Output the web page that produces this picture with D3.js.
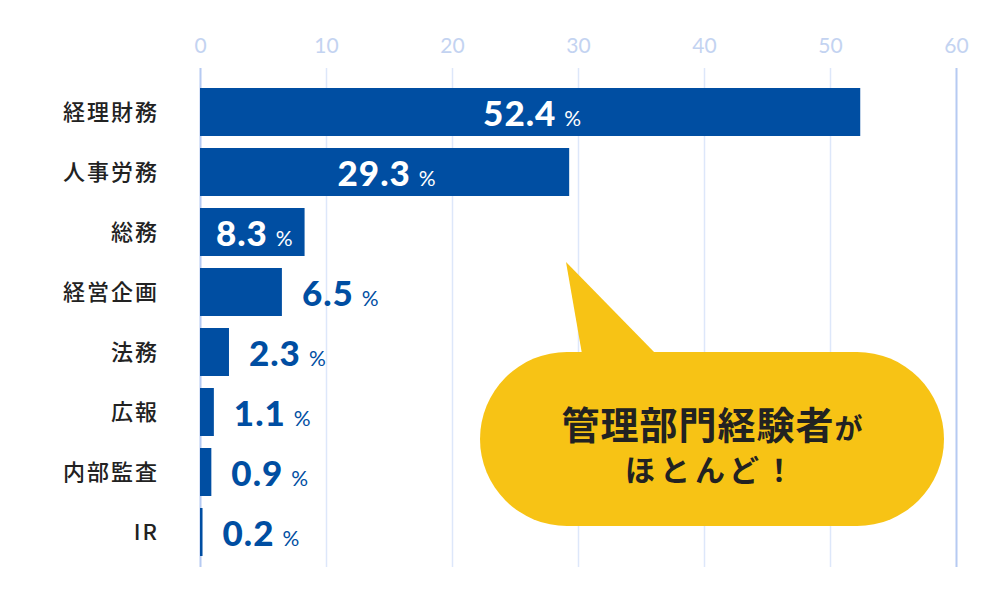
<!DOCTYPE html>
<html><head><meta charset="utf-8">
<script src="https://cdn.jsdelivr.net/npm/d3@7/dist/d3.min.js"></script>
<style>
html,body{margin:0;padding:0;background:#fff;}
svg{display:block;}
</style></head>
<body><svg id="chart" width="1000" height="600"></svg>
<script>
const categories = ["経理財務","人事労務","総務","経営企画","法務","広報","内部監査","IR"];
const values = [52.4, 29.3, 8.3, 6.5, 2.3, 1.1, 0.9, 0.2];
const tickValues = [0,10,20,30,40,50,60];
const calloutLine1 = "管理部門経験者";
const calloutLine1Tail = "が";
const calloutLine2 = "ほとんど！";

const svg = d3.select("#chart");
const x = d3.scaleLinear().domain([0,60]).range([200,956]);
const y = d3.scaleBand().domain(categories).range([82,562]).paddingInner(0.2).paddingOuter(0.1);

// grid + top axis
const axis = d3.axisTop(x).tickValues(tickValues).tickSize(-499).tickPadding(15.5);
const ag = svg.append("g").attr("transform","translate(0,68)").call(axis);
ag.select(".domain").remove();
ag.selectAll(".tick line")
  .attr("stroke", d => (d===0||d===60) ? "#b6caf2" : "#dde7fa")
  .attr("stroke-width", d => (d===0||d===60) ? 2 : 1.5);
ag.selectAll(".tick text")
  .attr("fill","#c3d3f1")
  .style("font-family","Lato, 'Noto Sans', sans-serif")
  .style("font-weight","400")
  .style("font-size","21px");

// bars
svg.append("g").selectAll("rect").data(values).join("rect")
  .attr("x", x(0))
  .attr("y", (d,i) => y(categories[i]))
  .attr("width", d => x(d) - x(0))
  .attr("height", y.bandwidth())
  .attr("fill", "#004ea2");

// category labels
svg.append("g").selectAll("text").data(categories).join("text")
  .attr("x", 159)
  .attr("y", d => y(d) + y.bandwidth()/2)
  .attr("dy","0.36em")
  .attr("text-anchor","end")
  .attr("fill","#222")
  .style("font-family","'Noto Sans CJK JP', 'Noto Sans', sans-serif")
  .style("font-weight","500")
  .style("font-size","22px")
  .style("letter-spacing","2px")
  .text(d => d);

// value labels
const inside = i => i < 3;
const vl = svg.append("g").selectAll("text").data(values).join("text")
  .attr("x", (d,i) => inside(i) ? (x(0)+x(d))/2 + 2 : x(d) + 20)
  .attr("y", (d,i) => y(categories[i]) + y.bandwidth()/2 + 13.5)
  .attr("text-anchor", (d,i) => inside(i) ? "middle" : "start")
  .attr("fill", (d,i) => inside(i) ? "#fff" : "#004ea2")
  .style("font-family","Lato, 'Noto Sans', sans-serif");
vl.append("tspan")
  .style("font-size","35px").style("font-weight","900").style("letter-spacing","1px")
  .text(d => d.toFixed(1));
vl.append("tspan")
  .attr("dx", 8)
  .style("font-size","21px").style("font-weight","400")
  .text("%");

// callout bubble
const bub = svg.append("g");
bub.append("path")
  .attr("d","M566,262 L582,354 L656,354 Z")
  .attr("fill","#f7c315");
bub.append("rect")
  .attr("x",480).attr("y",352).attr("width",464).attr("height",174)
  .attr("rx",87).attr("ry",87)
  .attr("fill","#f7c315");
const t1 = bub.append("text")
  .attr("x",712).attr("y",439)
  .attr("text-anchor","middle")
  .attr("fill","#222")
  .style("font-family","'Noto Sans CJK JP', sans-serif")
  .style("font-weight","700");
t1.append("tspan").style("font-size","38px").style("letter-spacing","1px").text(calloutLine1);
t1.append("tspan").style("font-size","28px").text(calloutLine1Tail);
bub.append("text")
  .attr("x",712).attr("y",481)
  .attr("text-anchor","middle")
  .attr("fill","#222")
  .style("font-family","'Noto Sans CJK JP', sans-serif")
  .style("font-weight","700")
  .style("font-size","30px")
  .style("letter-spacing","5px")
  .text(calloutLine2);
</script>
</body></html>
